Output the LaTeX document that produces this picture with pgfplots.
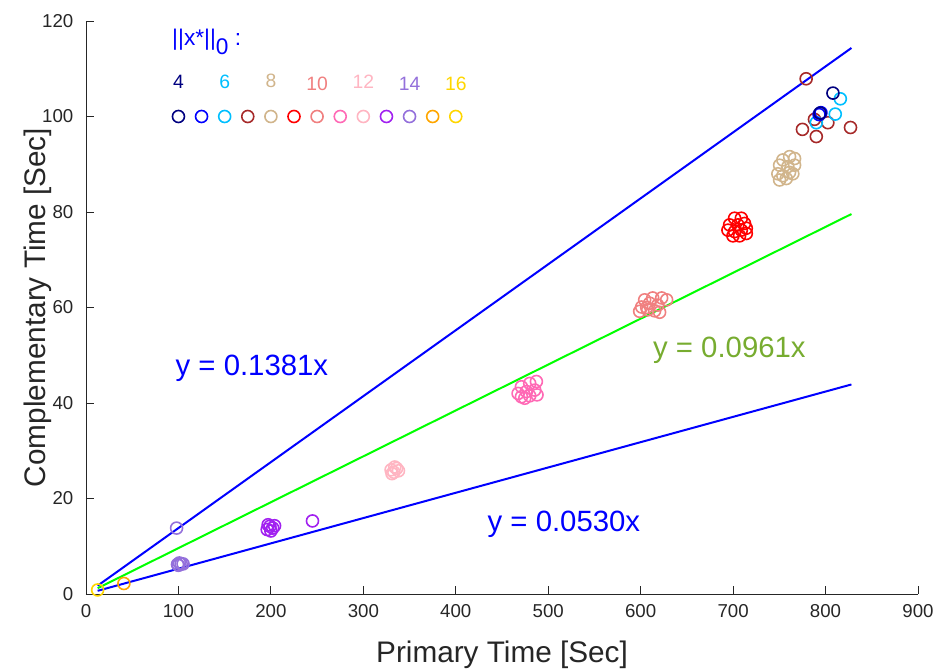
\documentclass[border=0pt]{standalone}
\usepackage{fontspec}
\setmainfont{Liberation Sans}
\usepackage{pgfplots}
\pgfplotsset{compat=1.18}

\definecolor{axisgray}{rgb}{0.15,0.15,0.15}
\definecolor{cnavy}{rgb}{0,0,0.5}
\definecolor{cblue}{rgb}{0,0,1}
\definecolor{csky}{rgb}{0,0.75,1}
\definecolor{cbrown}{rgb}{0.65,0.16,0.16}
\definecolor{ctan}{rgb}{0.82,0.71,0.55}
\definecolor{cred}{rgb}{1,0,0}
\definecolor{ccoral}{rgb}{0.94,0.5,0.5}
\definecolor{chot}{rgb}{1,0.41,0.71}
\definecolor{cpink}{rgb}{1,0.71,0.76}
\definecolor{cpurple}{rgb}{0.63,0.13,0.94}
\definecolor{cmpurple}{rgb}{0.58,0.44,0.86}
\definecolor{corange}{rgb}{1,0.65,0}
\definecolor{cgold}{rgb}{1,0.84,0}
\definecolor{fitgreen}{rgb}{0.466,0.674,0.188}

\pgfplotsset{pt/.style={only marks, mark=o, mark size=4.5pt, mark options={line width=1.2pt}}}

\begin{document}
\begin{tikzpicture}
\path[use as bounding box] (-64.5pt,-57pt) rectangle (637.5pt,445.5pt);
\begin{axis}[
    scale only axis,
    width=624pt, height=429.75pt,
    xmin=0, xmax=900, ymin=0, ymax=120,
    xtick={0,100,...,900}, ytick={0,20,...,120},
    axis x line*=bottom, axis y line*=left,
    tick align=inside, major tick length=6pt,
    axis line style={color=axisgray, line width=0.6pt},
    tick style={color=axisgray, line width=0.6pt},
    ticklabel style={font=\fontsize{14}{16}\selectfont, color=axisgray},
    xticklabel style={yshift=-4pt},
    yticklabel style={xshift=-6pt},
    /pgf/number format/assume math mode=true,
    xlabel={Primary Time [Sec]},
    ylabel={Complementary Time [Sec]},
    label style={font=\fontsize{22.3}{26}\selectfont, color=axisgray},
    x label style={at={(axis description cs:0.5,-0.1065)}, anchor=center},
    y label style={at={(axis description cs:-0.0577,0.5)}, anchor=center},
    clip=false,
]

% measured points, one series per ||x*||_0
\addplot[pt, color=cgold] coordinates {(12.6,0.85)};
\addplot[pt, color=corange] coordinates {(41,2.2)};
\addplot[pt, color=cmpurple] coordinates {
    (98,13.8) (99,6.2) (101,6.5) (103,6.3) (105,6.3) (100,6.0)};
\addplot[pt, color=cpurple] coordinates {
    (196,13.5) (199,14.2) (202,13.8) (204,14.3) (197,14.5) (200,13.2) (245,15.3)};
\addplot[pt, color=cpink] coordinates {
    (330,26) (333,25.5) (336,26.3) (338,25.8) (334,26.6) (331,25.2)};
\addplot[pt, color=chot] coordinates {
    (471,43.4) (480,44.1) (487.2,44.5) (467.4,42.0) (476.4,42.4)
    (485.4,42.7) (471,41.3) (480,41.5) (487.9,41.7) (474.6,41.0)};
\addplot[pt, color=ccoral] coordinates {
    (604.3,61.6) (613,62.0) (622.7,62.0) (628.1,61.6) (601.1,60.1) (609.7,60.9)
    (618.4,60.5) (598.9,59.2) (607.6,59.5) (615.1,59.3) (620.5,59.0) (606.5,60.0)};
\addplot[pt, color=cred] coordinates {
    (701.6,78.7) (708.9,78.7) (696.2,77.3) (705.2,77.3) (712.4,77.6) (694.4,76.2)
    (701.6,75.9) (708.9,76.2) (714.3,76.6) (699.8,75.0) (707,75.0) (714.3,75.5)};
\addplot[pt, color=ctan] coordinates {
    (753.8,90.9) (761.1,91.6) (766.5,91.2) (750.3,89.8) (759.2,89.5) (766.5,89.8)
    (748.4,88.0) (753.8,87.6) (761.1,88.3) (764.6,88.0) (750.3,86.7) (757.5,87.0)};
\addplot[pt, color=cbrown] coordinates {
    (779,107.9) (788,99.4) (802.5,98.7) (775,97.3) (827,97.7) (790,95.8)};
\addplot[pt, color=csky] coordinates {
    (816,103.7) (810.5,100.5) (790,98.7)};
\addplot[pt, color=cblue] coordinates {(795,100.8) (793,100.4)};
\addplot[pt, color=cnavy] coordinates {(808,104.9) (794,100.7)};

% fitted lines
\addplot[color=cblue, line width=1.5pt] coordinates {(12.6,1.74) (828,114.35)};
\addplot[color=green, line width=1.5pt] coordinates {(12.6,1.21) (828,79.57)};
\addplot[color=cblue, line width=1.5pt] coordinates {(12.6,0.67) (828,43.88)};

% key
\addplot[only marks, mark=o, mark size=4.5pt, line width=1.2pt,
    scatter, point meta=explicit symbolic,
    scatter/classes={a={cnavy},b={cblue},c={csky},d={cbrown},e={ctan},f={cred},
        g={ccoral},h={chot},i={cpink},j={cpurple},k={cmpurple},l={corange},m={cgold}}]
    coordinates {
    (100,100)[a] (125,100)[b] (150,100)[c] (175,100)[d] (200,100)[e]
    (225,100)[f] (250,100)[g] (275,100)[h] (300,100)[i] (325,100)[j]
    (350,100)[k] (375,100)[l] (400,100)[m]};

\node[anchor=west, text=cblue, font=\fontsize{17}{20}\selectfont, inner sep=0pt]
    at (axis cs:93,115.6) {||x*||\raisebox{-0.8ex}{0}\ :};
\begin{scope}[every node/.style={font=\fontsize{14.5}{17}\selectfont}]
\node[text=cnavy] at (axis cs:100,107.2) {4};
\node[text=csky] at (axis cs:150,107.2) {6};
\node[text=ctan] at (axis cs:200,107.4) {8};
\node[text=ccoral] at (axis cs:250,106.9) {10};
\node[text=cpink] at (axis cs:300,107.3) {12};
\node[text=cmpurple] at (axis cs:350,106.9) {14};
\node[text=cgold] at (axis cs:400,106.8) {16};
\end{scope}

\node[text=cblue, font=\fontsize{22}{26}\selectfont] at (axis cs:179.5,47.3) {y = 0.1381x};
\node[text=fitgreen, font=\fontsize{22}{26}\selectfont] at (axis cs:696,51) {y = 0.0961x};
\node[text=cblue, font=\fontsize{22}{26}\selectfont] at (axis cs:517,14.5) {y = 0.0530x};
\end{axis}
\end{tikzpicture}
\end{document}
